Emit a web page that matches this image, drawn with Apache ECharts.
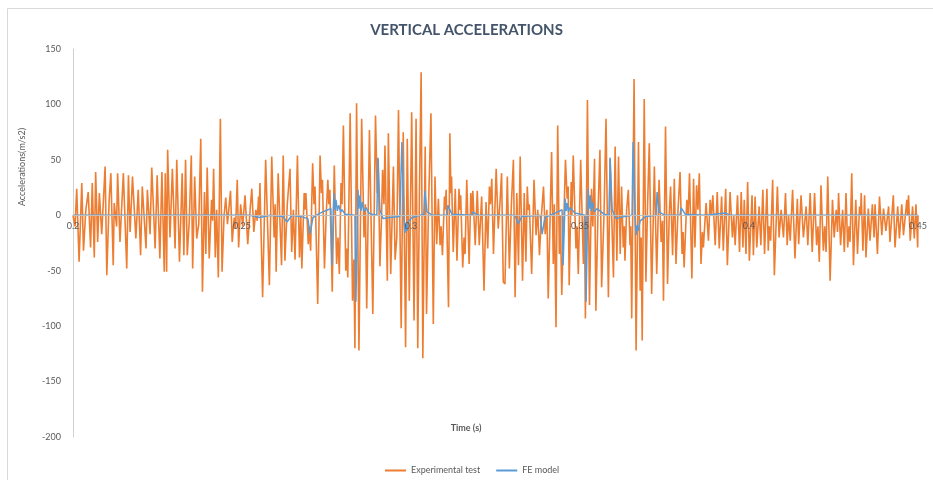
<!DOCTYPE html>
<html>
<head>
<meta charset="utf-8">
<script src="https://cdn.jsdelivr.net/npm/echarts@6/dist/echarts.min.js"></script>
<style>
  html, body { margin: 0; padding: 0; background: #ffffff; }
  #chart { width: 933px; height: 480px; }
</style>
</head>
<body>
<div id="chart"></div>
<script>
// Labels
const chartTitle = 'VERTICAL ACCELERATIONS';
const yAxisTitle = 'Accelerations(m/s2)';
const xAxisTitle = 'Time (s)';
const seriesNames = ['Experimental test', 'FE model'];

// Axis ranges (time in s, acceleration in m/s2)
const timeTicks = [0.2, 0.25, 0.3, 0.35, 0.4, 0.45];
const accelTicks = [-200, -150, -100, -50, 0, 50, 100, 150];

// Measured signal: [time (ms), acceleration (m/s2)]
const experimentalTest = [
  [200.0,0],[200.6,-10],[201.1,24],[201.8,-42],[202.6,29],[203.1,-32],[203.8,5],[204.5,21],[205.2,-29],[205.7,29],
  [206.3,-38],[206.7,39],[207.3,-24],[207.8,20],[208.5,-17],[209.5,44],[210.0,-54],[210.7,14],[211.2,38],[211.9,-45],
  [212.2,11],[212.9,-10],[213.2,38],[213.9,-24],[214.9,38],[215.9,-48],[216.4,36],[216.9,-15],[217.6,35],[218.6,-21],
  [219.3,23],[220.0,-36],[220.5,26],[221.6,-30],[222.0,23],[222.8,-17],[223.3,43],[224.3,-30],[224.9,36],[225.7,-39],
  [226.3,39],[227.0,-51],[227.3,38],[227.7,-51],[228.0,59],[228.7,-20],[229.4,42],
  [230.2,-30],[230.7,50],[231.5,-42],[232.3,38],[232.8,-36],[233.3,50],[233.8,-36],[234.4,-5],[235.0,54],[235.4,-48],
  [236.0,35],[236.6,-21],[237.2,-8],[237.8,69],[238.3,-69],[238.9,21],[239.3,-35],[239.7,43],[240.3,-39],[241.0,14],
  [241.3,-5],[241.6,42],[242.1,-38],[242.5,5],[243.0,-56],[243.6,87],[244.1,-51],[244.7,0],[245.2,16],[245.7,-8],
  [246.6,22],[247.1,-24],[247.7,-2],[248.1,-12],[248.6,32],[249.0,-29],[249.6,10],[250.2,-10],[250.9,18],[251.7,-26],
  [252.4,5],[252.9,24],[253.5,-15],[254.1,5],[254.5,-5],[254.9,17],[255.1,0],[255.3,29],[256.1,-74],[257.0,50],
  [258.1,-63],[258.8,53],[259.5,-20],[259.8,10],[260.1,-51],[260.7,38],[261.7,-45],[262.2,54],
  [262.7,-41],[263.4,10],[264.2,42],[264.7,-33],[265.2,5],[265.7,-40],[266.4,54],[267.0,-38],[267.4,0],[267.7,-48],
  [268.4,20],[268.6,5],[268.9,20],[269.6,-26],[269.9,-10],[270.3,-32],[270.9,47],[271.3,10],[271.6,26],[272.4,-80],
  [273.1,54],[273.5,20],[273.8,32],[274.4,-48],[274.9,0],[275.4,32],[275.7,10],[276.0,23],[276.7,-69],[277.3,45],
  [278.0,-44],[278.4,-20],[278.8,-53],[279.3,29],[279.6,10],[280.0,81],[280.7,-50],[281.0,-30],[281.3,-56],[282.0,92],
  [282.7,-77],[283.1,-40],[283.4,-120],[283.9,101],[284.6,-122],[285.4,87],[286.1,-20],[286.5,10],[286.9,-84],[287.7,77],
  [288.7,-89],[289.5,90],[290.0,20],[290.3,51],[290.8,-46],[291.3,0],[291.6,41],[292.0,10],[292.3,63],[293.0,-59],
  [293.3,74],[294.0,-53],[294.8,44],
  [295.3,-40],[295.8,-20],[296.3,95],[297.1,-102],[297.7,75],[298.4,-119],[298.9,69],[299.5,-77],[300.2,93],[300.9,-95],
  [301.5,87],[302.0,-120],[302.5,20],[303.0,129],[303.5,-129],[304.2,62],[304.6,-89],[305.2,10],[305.9,92],[306.6,-98],
  [307.1,35],[307.6,-26],[308.1,15],[308.6,-27],[308.9,-10],[309.3,-36],[309.9,17],[310.1,5],[310.4,23],[311.1,-83],
  [311.5,74],[311.8,20],[312.0,35],[312.5,-33],[313.1,24],[313.6,-41],[314.2,24],[314.5,5],[314.7,18],[315.3,-47],
  [315.7,-20],[316.0,-35],[316.5,32],[317.2,-44],[317.7,20],[318.0,0],[318.3,22],[319.0,-27],[319.6,22],[320.2,-27],
  [320.9,17],[321.6,-68],[322.2,12],[322.7,-30],[323.2,26],[323.5,10],[323.9,33],[324.4,-35],[325.2,42],[325.8,-12],
  [326.3,10],[326.8,38],[327.3,-60],
  [327.8,-62],[328.5,35],[329.1,-48],[329.7,10],[330.3,50],[330.8,-74],[331.3,20],[331.8,-45],[332.3,53],[333.0,-59],
  [333.5,20],[334.0,-42],[334.4,26],[334.7,5],[335.0,10],[335.7,-53],[336.4,32],[337.0,-18],[337.5,5],[338.0,-36],
  [338.6,0],[339.2,26],[339.7,-17],[340.2,5],[340.6,-75],[341.6,57],[342.1,-44],[342.4,10],[342.9,-101],[343.4,81],
  [343.9,-35],[344.2,0],[344.6,-72],[345.7,50],[346.2,15],[346.5,26],[346.8,-63],[347.4,30],[347.6,0],[348.0,54],
  [348.8,-30],[349.1,-10],[349.5,-53],[350.2,50],[351.0,-44],[351.3,0],[351.6,-93],[352.2,104],[352.8,-81],[353.4,24],
  [353.8,-10],[354.3,51],[354.7,-86],[355.3,0],[355.9,59],[356.4,-65],[357.1,0],[357.7,87],[358.4,-74],[358.9,51],
  [359.9,-56],
  [360.4,62],[360.9,-41],[361.4,53],[361.9,-35],[362.3,26],[362.8,-29],[363.1,-10],[363.3,-41],[363.8,5],[364.3,23],
  [364.8,-27],[365.0,-10],[365.3,-93],[366.0,123],[366.6,-122],[367.3,66],[367.8,-68],[368.1,-20],[368.4,-113],[369.0,105],
  [369.5,-60],[370.0,10],[370.5,65],[371.2,-71],[372.0,44],[372.7,-53],[373.4,32],[374.0,-24],[374.4,-5],[374.7,-77],
  [375.3,80],[375.9,-62],[376.4,0],[376.8,26],[377.4,-36],[377.9,33],[378.4,-44],[379.0,5],[379.6,39],[380.2,-35],
  [380.5,-15],[380.8,-47],[381.6,14],[382.0,0],[382.4,38],[383.1,-57],[383.6,33],[384.0,-29],[384.5,27],[384.9,5],
  [385.3,38],[385.8,-44],[386.2,-15],[386.5,-29],[387.3,11],[388.0,-23],[388.5,14],[388.9,0],[389.3,18],[390.0,-27],
  [390.6,21],[391.2,-30],[391.9,17],[392.4,-32],
  [393.1,24],[393.6,-45],[394.4,21],[395.1,-20],[395.5,0],[395.9,-27],[396.6,18],[397.2,-33],[397.7,21],[398.2,-29],
  [398.6,14],[399.1,-35],[399.6,30],[400.1,-41],[400.9,18],[401.3,-36],[401.8,17],[402.3,-29],[403.0,8],[403.5,-27],
  [404.1,23],[404.6,-35],[405.3,24],[405.7,-32],[406.0,-10],[406.4,-23],[407.0,32],[407.5,-54],[408.4,26],[408.9,-20],
  [409.5,5],[410.2,-20],[410.8,20],[411.3,-27],[411.7,0],[412.2,-23],[412.9,23],[413.6,-39],[414.3,15],[414.7,-26],
  [415.4,18],[416.1,-20],[416.9,8],[417.4,-27],[418.1,20],[418.7,-33],[419.4,20],[420.0,-27],[420.4,-10],[420.8,-42],
  [421.3,27],[422.0,-32],[422.4,-10],[422.8,-33],[423.3,35],[424.0,-59],[424.7,14],[425.2,-20],
  [425.8,5],[426.2,-15],[426.5,20],[427.1,-27],[427.7,5],[428.2,-33],[428.7,20],[429.2,-29],[429.6,-10],[429.9,-24],
  [430.4,38],[430.9,-45],[431.6,14],[432.1,-35],[432.7,8],[433.0,0],[433.2,20],[433.7,-32],[434.2,18],[434.6,-38],
  [435.3,6],[435.8,-23],[436.5,10],[437.0,-20],[437.3,10],[438.0,-35],[438.6,17],[439.3,-18],[439.8,6],[440.5,-14],
  [441.3,8],[441.7,-24],[442.7,18],[443.2,-29],[444.0,8],[444.5,-21],[445.2,10],[445.7,-18],[446.7,14],[446.9,0],
  [447.2,18],[447.7,-23],[448.4,8],[448.9,-21],[449.4,10],[449.9,-29],[450.0,0]
];

// Finite element prediction: [time (ms), acceleration (m/s2)]
const feModel = [
  [200.0,0],[252.4,0],[255.3,-2],[258.3,0],[262.1,-1],[263.3,-6],[264.8,0],[267.2,-1],[269.5,-3],[270.1,-17],
  [271.0,-2],[273.1,2],[275.4,5],[276.3,6],[276.6,-45],[277.2,20],[277.5,5],[277.8,14],[278.2,4],[278.6,9],
  [279.2,3],[279.6,5],[280.5,1],[283.4,0],[283.7,-78],[284.3,23],[284.6,6],[284.9,18],[285.2,4],[285.6,12],
  [286.1,3],[286.7,7],[287.5,2],[288.5,1],[289.9,0],[290.2,52],[290.8,5],[291.7,-3],[293.8,-2],[296.7,-1],
  [297.3,66],[297.9,-2],[298.2,-16],[298.5,-8],[298.8,-14],[299.1,-6],[300.3,-2],[302.7,0],[303.8,1],[304.1,22],
  [304.7,3],[306.5,0],[310.7,0],[310.9,9],[312.1,1],[318.0,0],[318.3,3],[319.8,0],[330.8,0],[331.7,-8],
  [332.8,-1],[338.2,0],[338.8,-17],[339.6,-2],[342.6,2],[344.7,5],[345.0,-45],[345.6,15],[345.9,4],[346.2,11],
  [346.6,3],[347.0,7],[348.5,2],[351.5,0],[351.8,-78],[352.4,24],[352.7,6],[353.0,18],[353.3,4],[353.7,12],
  [354.2,3],[355.0,6],[357.1,1],[358.6,0],[358.9,52],[359.5,5],[360.7,-3],[363.3,-1],[365.4,0],[365.7,66],
  [366.3,-2],[366.6,-18],[366.9,-9],[367.2,-14],[367.8,-5],[369.5,-1],[372.5,0],[372.8,21],[373.4,3],[375.1,0],
  [379.6,0],[379.9,7],[381.1,1],[387.0,0],[393.2,2],[394.4,0],[450.0,0]
];

const toSeconds = pts => pts.map(p => [p[0] / 1000, p[1]]);

const FONT = 'Lato, "Open Sans", sans-serif';
const labelGrey = '#595959';

// Plot box
const GRID = { left: 73, right: 15, top: 49, bottom: 43 };
const CHART_H = 480;
const plotHeight = CHART_H - GRID.top - GRID.bottom;
const yMin = accelTicks[0];
const yMax = accelTicks[accelTicks.length - 1];
// Time axis sits on the zero-acceleration line
const zeroLineOffset = -plotHeight * (0 - yMin) / (yMax - yMin);

const chart = echarts.init(document.getElementById('chart'), null, { renderer: 'canvas' });

chart.setOption({
  animation: false,
  backgroundColor: '#ffffff',
  title: {
    text: chartTitle,
    left: 'center',
    top: 18,
    textStyle: { fontFamily: FONT, fontSize: 15, fontWeight: 'bold', color: '#44546a' }
  },
  grid: GRID,
  xAxis: {
    type: 'value',
    position: 'bottom',
    offset: zeroLineOffset,
    z: 4,
    min: timeTicks[0],
    max: timeTicks[timeTicks.length - 1],
    interval: 0.05,
    axisLine: { show: true, onZero: false, lineStyle: { color: '#bfbfbf', width: 1 } },
    axisTick: { show: false },
    splitLine: { show: false },
    axisLabel: {
      color: labelGrey,
      fontFamily: FONT,
      fontSize: 9,
      margin: 6,
      formatter: v => String(+v.toFixed(2))
    }
  },
  yAxis: {
    type: 'value',
    min: yMin,
    max: yMax,
    interval: 50,
    axisLine: { show: true, onZero: false, lineStyle: { color: '#d0d0d0', width: 1 } },
    axisTick: { show: false },
    splitLine: { show: false },
    axisLabel: { color: labelGrey, fontFamily: FONT, fontSize: 9, margin: 12 }
  },
  legend: {
    left: 380,
    top: 461,
    icon: 'rect',
    itemWidth: 21,
    itemHeight: 2,
    itemGap: 16,
    textStyle: { color: labelGrey, fontFamily: FONT, fontSize: 9 },
    data: seriesNames
  },
  graphic: [
    {
      type: 'rect',
      shape: { x: 7.5, y: 8.5, width: 940, height: 490 },
      style: { fill: 'none', stroke: '#d9d9d9', lineWidth: 1 },
      silent: true
    },
    {
      type: 'text',
      x: 22, y: 167,
      rotation: Math.PI / 2,
      style: {
        text: yAxisTitle, fill: labelGrey, font: '9px ' + FONT,
        textAlign: 'center', textVerticalAlign: 'middle'
      }
    },
    {
      type: 'text',
      x: 466, y: 428,
      style: {
        text: xAxisTitle, fill: labelGrey, font: 'bold 9px ' + FONT,
        textAlign: 'center', textVerticalAlign: 'middle'
      }
    }
  ],
  series: [
    {
      name: seriesNames[0],
      type: 'line',
      data: toSeconds(experimentalTest),
      showSymbol: false,
      symbol: 'none',
      color: '#ED7D31',
      lineStyle: { color: '#ED7D31', width: 1.6 },
      z: 2
    },
    {
      name: seriesNames[1],
      type: 'line',
      data: toSeconds(feModel),
      showSymbol: false,
      symbol: 'none',
      color: '#5B9BD5',
      lineStyle: { color: '#5B9BD5', width: 1.5 },
      z: 3
    }
  ]
});
</script>
</body>
</html>
